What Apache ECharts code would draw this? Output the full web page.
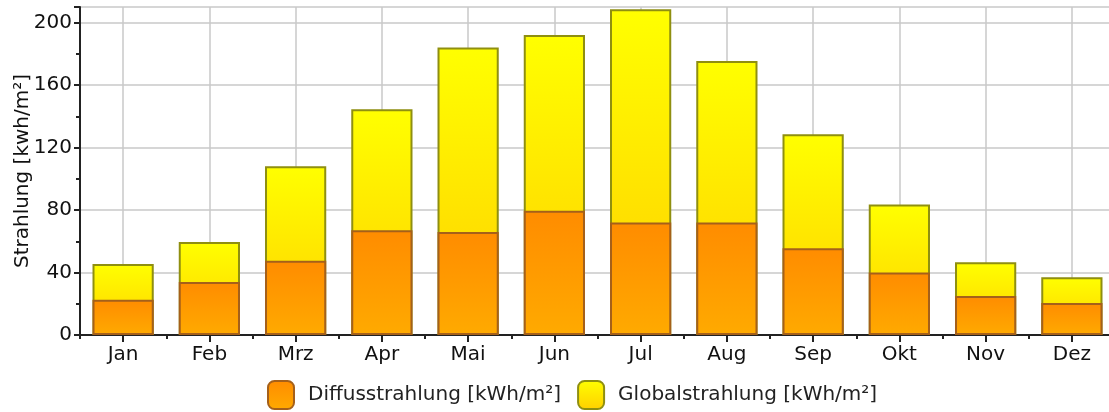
<!DOCTYPE html>
<html><head><meta charset="utf-8">
<script src="https://cdn.jsdelivr.net/npm/echarts@6/dist/echarts.min.js"></script>
<style>html,body{margin:0;padding:0;background:#fff}#c{width:1109px;height:412px}</style>
</head><body><div id="c"></div>
<script>
const categories = ['Jan','Feb','Mrz','Apr','Mai','Jun','Jul','Aug','Sep','Okt','Nov','Dez'];
const diffus = [22.5, 34, 47.5, 67, 66, 79.5, 72, 72, 55.5, 40, 25, 20.5];
const global = [45.5, 59.5, 108, 144.5, 184, 192, 208.5, 175.5, 128.5, 83.5, 46.5, 37];
const yTicks = [0, 40, 80, 120, 160, 200];
const nameDiffus = 'Diffusstrahlung [kWh/m²]';
const nameGlobal = 'Globalstrahlung [kWh/m²]';

const font = 'DejaVu Sans';
const chart = echarts.init(document.getElementById('c'));
const yellowGrad = new echarts.graphic.LinearGradient(0,0,0,1,[{offset:0,color:'#ffff00'},{offset:1,color:'#ffcf00'}], false);
const orangeGrad = new echarts.graphic.LinearGradient(0,0,0,1,[{offset:0,color:'#ff8c00'},{offset:1,color:'#ffaa00'}]);
chart.setOption({
  animation: false,
  grid: {left: 80, top: 7, width: 1035, bottom: 77, outerBoundsMode: 'none', containLabel: false},
  legend: {
    top: 375, left: 262,
    data: [nameDiffus, nameGlobal],
    itemWidth: 26, itemHeight: 28, itemGap: 16,
    icon: 'roundRect',
    textStyle: {fontFamily: font, fontSize: 20, color: '#222', padding: [0, 0, 0, 9]}
  },
  xAxis: [{
    type: 'category', data: categories,
    axisLine: {lineStyle: {color: '#222', width: 2}},
    axisTick: {show: true, alignWithLabel: true, length: 7, lineStyle: {color: '#222', width: 2}},
    splitLine: {show: true, alignWithLabel: true, lineStyle: {color: '#c8c8c8', width: 1.5}},
    axisLabel: {fontFamily: font, fontSize: 20, color: '#111', margin: 10}
  },{
    type: 'category', data: categories, position: 'bottom',
    axisLine: {show: false},
    axisTick: {show: true, length: 4, lineStyle: {color: '#222', width: 2}},
    axisLabel: {show: false}, splitLine: {show: false}
  }],
  yAxis: {
    type: 'value', min: 0, max: 210, interval: 40,
    name: 'Strahlung [kwh/m²]', nameLocation: 'middle', nameGap: 47, nameMoveOverlap: false,
    nameTextStyle: {fontFamily: font, fontSize: 20, color: '#111'},
    axisLine: {show: true, lineStyle: {color: '#222', width: 2}},
    axisTick: {show: true, length: 6, lineStyle: {color: '#222', width: 2}},
    minorTick: {show: true, splitNumber: 2, length: 4, lineStyle: {color: '#222', width: 2}},
    splitLine: {lineStyle: {color: '#c8c8c8', width: 1.5}},
    axisLabel: {fontFamily: font, fontSize: 20, color: '#111', margin: 8,
      formatter: v => yTicks.includes(v) ? String(v) : ''}
  },
  series: [{
    name: nameGlobal, type: 'bar', data: global, barWidth: '71%', barGap: '-100%',
    itemStyle: {color: yellowGrad, borderColor: '#8f8f10', borderWidth: 2}
  },{
    name: nameDiffus, type: 'bar', data: diffus, barWidth: '71%', barGap: '-100%',
    itemStyle: {color: orangeGrad, borderColor: '#a5601a', borderWidth: 2}
  }]
});
</script></body></html>
